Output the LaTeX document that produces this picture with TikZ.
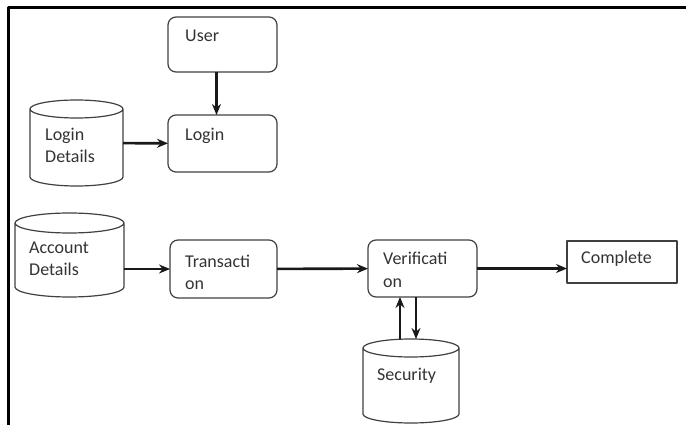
\documentclass[tikz,border=0pt]{standalone}
\usepackage{fontspec}
\setmainfont{Carlito}
\usetikzlibrary{arrows.meta}

% outline of a data store round node #1: half width #2, end ellipse radius #3
\newcommand\storeoutline[3]{%
	\draw[storeline] ([yshift=-#3]#1.north east) arc[start angle=0, end angle=360, x radius=#2, y radius=#3]
		-- ([yshift=#3]#1.south east) arc[start angle=0, end angle=-180, x radius=#2, y radius=#3]
		-- ([yshift=-#3]#1.north west);}

\begin{document}
\begin{tikzpicture}[x=1pt, y=-1pt, line join=round, >={Stealth[length=11pt,width=9pt]},
	font=\fontsize{18}{22}\selectfont,
	proc/.style={draw=black!75, line width=1.2pt, rounded corners=8pt, inner sep=0pt, outer sep=0pt},
	store/.style={inner sep=0pt, outer sep=0pt},
	storeline/.style={draw=black!75, line width=1.2pt},
	txt/.style={anchor=base west, inner sep=0pt, text=black!80, align=left},
	flow/.style={->, line width=2.6pt, black!90}]
	\useasboundingbox (0,0) rectangle (686,425);
	\draw[line width=3pt] (8,425) -- (8,8) -- (686,8);
	% process boxes
	\node[proc, minimum width=109pt, minimum height=55pt] (user) at (222.5,44.5) {};
	\node[proc, minimum width=109pt, minimum height=57pt] (login) at (222.5,143.5) {};
	\node[proc, minimum width=107pt, minimum height=58pt] (trans) at (223.5,269) {};
	\node[proc, minimum width=109pt, minimum height=57pt] (verif) at (422.5,268.5) {};
	\node[proc, rounded corners=0pt, minimum width=110pt, minimum height=42pt] (done) at (622,262) {};
	% data stores
	\node[store, minimum width=93pt, minimum height=86pt] (logdet) at (76.5,143) {};
	\node[store, minimum width=109pt, minimum height=84pt] (acct) at (69.5,255) {};
	\node[store, minimum width=96pt, minimum height=84pt] (sec) at (411,381) {};
	\storeoutline{logdet}{46.5pt}{9pt}
	\storeoutline{acct}{54.5pt}{10pt}
	\storeoutline{sec}{48pt}{9pt}
	% texts, top left in each shape (base = last line)
	\path (user.north west) ++(17,25) node[txt] (usert) {User};
	\path (login.north west) ++(17,26) node[txt] (logint) {Login};
	\path (trans.north west) ++(15,49) node[txt] (transt) {Transacti\\on};
	\path (verif.north west) ++(15,47) node[txt] (verift) {Verificati\\on};
	\path (done.north west) ++(14,22) node[txt] (donet) {Complete};
	\path (logdet.north west) ++(15,63) node[txt] (logdett) {Login\\Details};
	\path (acct.north west) ++(14,62) node[txt] (acctt) {Account\\Details};
	\path (sec.north west) ++(14,41) node[txt] (sect) {Security};
	% flows
	\draw[flow] ([xshift=-6pt]user.south) -- ([xshift=-6pt]login.north);
	\draw[flow] (logdet) -- (login);
	\draw[flow] (trans.west -| acct.east) -- (trans.west);
	\draw[flow] (trans) -- (verif);
	\draw[flow] (verif.east) -- (verif.east -| done.west);
	\draw[flow] ([xshift=-11pt]sec.north) coordinate (su) -- (su |- verif.south);
	\draw[flow] ([xshift=-6.5pt]verif.south) coordinate (vd) -- (vd |- sec.north);
\end{tikzpicture}
\end{document}
